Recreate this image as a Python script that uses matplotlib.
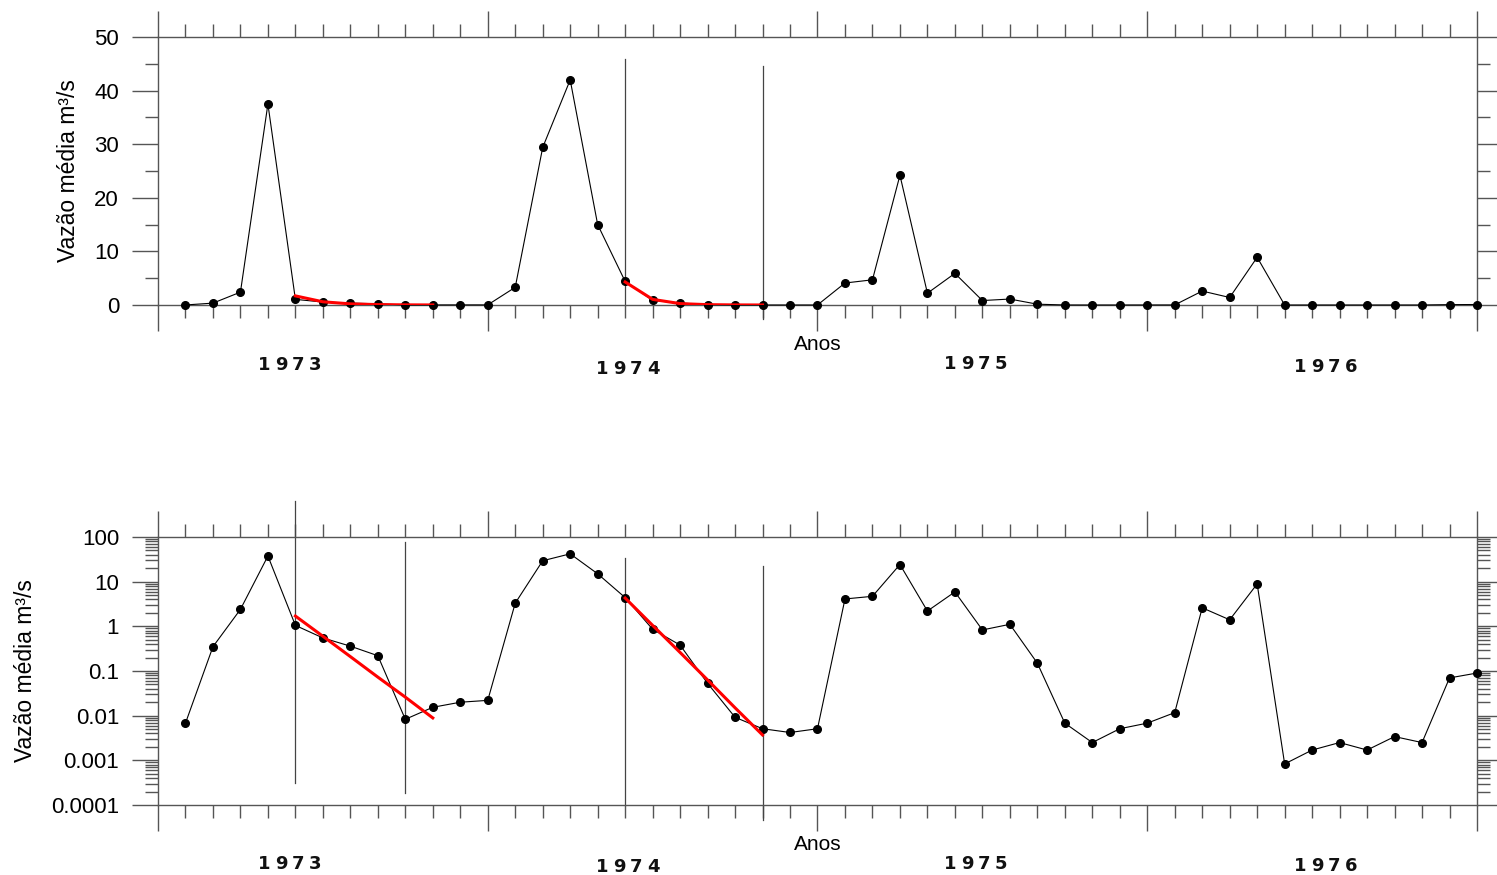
import matplotlib
matplotlib.use('Agg')
import matplotlib.pyplot as plt
import matplotlib.transforms as mtransforms
from matplotlib.ticker import MultipleLocator, LogLocator, FuncFormatter, NullFormatter
import numpy as np

plt.rcParams.update({
    'font.family': ['Liberation Sans', 'DejaVu Sans'],
    'font.size': 16,
})

# monthly mean discharge, Jan 1973 .. Dec 1976 (month index 1..48)
meses = np.arange(1, 49)
vazao = [0.0068, 0.35, 2.4, 37.5, 1.05, 0.55, 0.36, 0.22, 0.0083, 0.0154, 0.020, 0.022,
         3.3, 29.4, 42.0, 15.0, 4.4, 0.86, 0.38, 0.053, 0.0092, 0.0051, 0.0042, 0.0051,
         4.1, 4.7, 24.2, 2.2, 5.9, 0.83, 1.11, 0.15, 0.0068, 0.0025, 0.0051, 0.0068,
         0.0117, 2.6, 1.4, 8.9, 0.00083, 0.0017, 0.0025, 0.0017, 0.0034, 0.0025, 0.070, 0.090]

# recession fits (red)
rec1_meses = [5, 6, 7, 8, 9, 10]
rec1 = [1.7, 0.60, 0.21, 0.073, 0.026, 0.0089]
rec2_meses = [17, 18, 19, 20, 21, 22]
rec2 = [4.3, 1.05, 0.26, 0.063, 0.015, 0.0037]

anos = ['1973', '1974', '1975', '1976']
ano_x = [4.8, 17.1, 29.75, 42.5]
ano_y_top = [-0.224, -0.239, -0.220, -0.231]
ano_y_bot = [-0.222, -0.232, -0.220, -0.226]

# vertical marker lines: (month, ymin, ymax) in axes fraction
vlinhas_top = [(17, 0.0, 0.918), (22, -0.052, 0.892)]
vlinhas_bot = [(5, 0.082, 1.134), (9, 0.045, 0.981), (17, 0.0, 0.922), (22, -0.056, 0.892)]

GRAY = '#555555'

fig = plt.figure(figsize=(14.97, 8.75), dpi=100)
ax1 = fig.add_axes([158 / 1497, 1 - 305 / 875, 1319 / 1497, 268 / 875])
ax2 = fig.add_axes([158 / 1497, 1 - 805 / 875, 1319 / 1497, 268 / 875])


def spaced_text(ax, x, y, s, step_px=17):
    n = len(s)
    for k, ch in enumerate(s):
        dx = (k - (n - 1) / 2) * step_px / fig.dpi
        tr = ax.get_xaxis_transform() + mtransforms.ScaledTranslation(dx, 0, fig.dpi_scale_trans)
        ax.text(x, y, ch, transform=tr, ha='center', va='center', fontsize=13,
                fontweight='bold', family='DejaVu Sans', color='#111111')


def style(ax, vlinhas, ano_y):
    ax.set_xlim(0, 48)
    ax.xaxis.set_major_locator(MultipleLocator(12))
    ax.xaxis.set_minor_locator(MultipleLocator(1))
    ax.tick_params(axis='x', which='both', direction='out', top=True, bottom=True,
                   labelbottom=False, labeltop=False)
    ax.tick_params(axis='y', which='both', direction='out', left=True, right=True,
                   labelleft=True, labelright=False, labelsize=16, pad=9)
    ax.tick_params(which='major', length=19, width=1, color=GRAY)
    ax.tick_params(which='minor', length=9.5, width=1, color=GRAY)
    for sp in ax.spines.values():
        sp.set_color(GRAY)
        sp.set_linewidth(1)
    ax.set_ylabel('Vazão média m³/s', fontsize=16.5, labelpad=10)
    ax.text(24, -0.149, 'Anos', transform=ax.get_xaxis_transform(), ha='center',
            va='center', fontsize=15)
    for a, x, y in zip(anos, ano_x, ano_y):
        spaced_text(ax, x, y, a)
    for m, y0, y1 in vlinhas:
        ax.plot([m, m], [y0, y1], transform=ax.get_xaxis_transform(), color='#444444',
                lw=0.9, clip_on=False, zorder=2)


for ax in (ax1, ax2):
    ax.plot(meses, vazao, color='black', lw=0.8, marker='o', ms=5.5, clip_on=False, zorder=3)
    ax.plot(rec1_meses, rec1, color='#ff0000', lw=2.2, zorder=4)
    ax.plot(rec2_meses, rec2, color='#ff0000', lw=2.2, zorder=4)

ax1.set_ylim(0, 50)
ax1.yaxis.set_major_locator(MultipleLocator(10))
ax1.yaxis.set_minor_locator(MultipleLocator(5))
style(ax1, vlinhas_top, ano_y_top)

ax2.set_yscale('log')
ax2.set_ylim(1e-4, 100)
ax2.yaxis.set_major_locator(LogLocator(base=10, numticks=20))
ax2.yaxis.set_minor_locator(LogLocator(base=10, subs=np.arange(2, 10), numticks=100))
ax2.yaxis.set_major_formatter(FuncFormatter(lambda v, _: f'{v:g}'))
ax2.yaxis.set_minor_formatter(NullFormatter())
style(ax2, vlinhas_bot, ano_y_bot)

fig.savefig('out.png', dpi=100)
